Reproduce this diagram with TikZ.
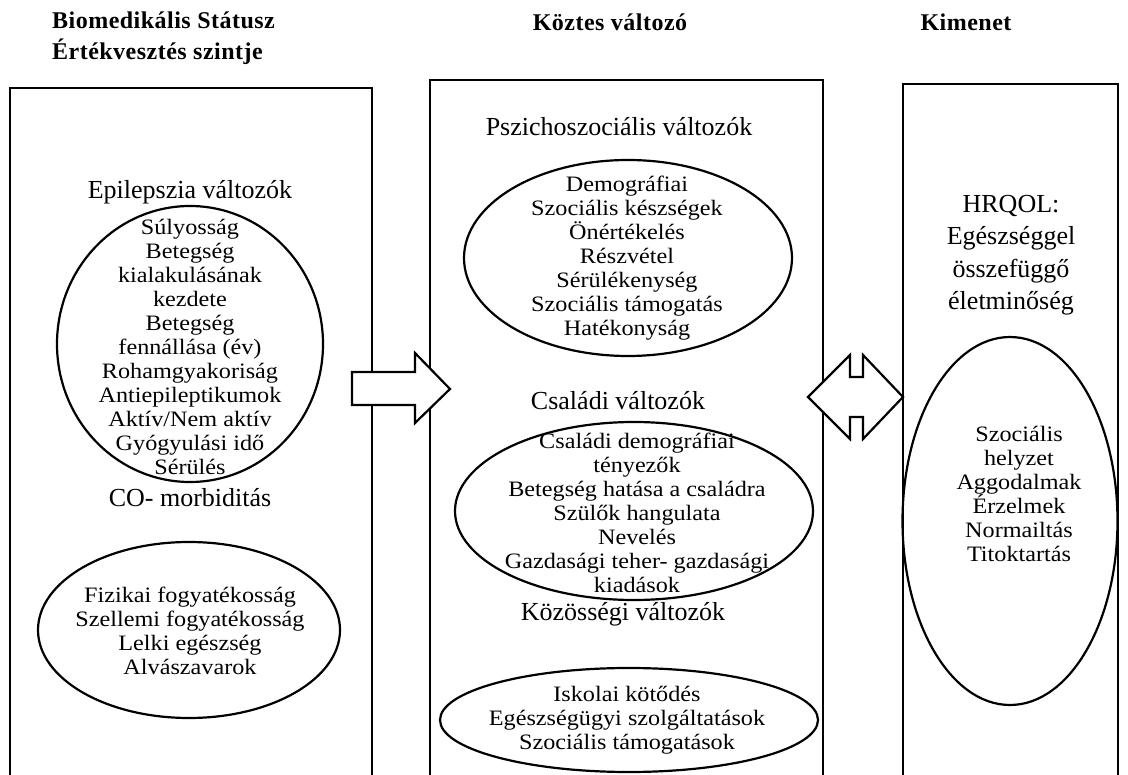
\documentclass[tikz,border=0pt]{standalone}
\usepackage{fontspec}
\setmainfont{Liberation Serif}
\newfontfamily\hdfont[LetterSpace=2]{Liberation Serif}
\newfontfamily\itfont[FakeStretch=1.1]{Liberation Serif}
\usetikzlibrary{shapes.geometric}
\tikzset{
  frame/.style={line width=2.6pt, line join=miter},
  oval/.style={ellipse, draw, line width=2.2pt, inner sep=0pt},
  head/.style={font=\hdfont\fontsize{24}{31.5}\selectfont\bfseries, align=left, inner sep=0pt},
  sect/.style={font=\fontsize{26}{32.5}\selectfont, align=center, inner sep=0pt},
  items/.style={font=\itfont\fontsize{22}{24}\selectfont, align=center, inner sep=0pt},
  blockarrow/.style={draw, line width=2.2pt, fill=white, line join=miter},
}
\begin{document}
\begin{tikzpicture}[x=1pt,y=-1pt]
\useasboundingbox (0,0) rectangle (1128,775);
\clip (0,0) rectangle (1128,775);
% headers
\node[head, anchor=west] (h1) at (52,38) {Biomedikális Státusz\\Értékvesztés szintje};
\node[head] (h2) at (610,22) {Köztes változó};
\node[head] (h3) at (966,22) {Kimenet};
% frames (open at bottom)
\draw[frame] (10,800) -- (10,88) -- (372,88) -- (372,800);
\draw[frame] (430,800) -- (430,80) -- (823,80) -- (823,800);
\draw[frame] (903,800) -- (903,84) -- (1118,84) -- (1118,800);
% left column
\node[sect] (epi) at (190,192) {Epilepszia változók};
\node[oval, minimum width=266pt, minimum height=276pt] (epiov) at (190,344) {};
\node[items] (epit) at (190,347) {Súlyosság\\Betegség\\kialakulásának\\kezdete\\Betegség\\fennállása (év)\\Rohamgyakoriság\\Antiepileptikumok\\Aktív/Nem aktív\\Gyógyulási idő\\Sérülés};
\node[sect] (co) at (190,498) {CO- morbiditás};
\node[oval, minimum width=302pt, minimum height=176pt] (coov) at (189,630) {};
\node[items] (cot) at (190,631) {Fizikai fogyatékosság\\Szellemi fogyatékosság\\Lelki egészség\\Alvászavarok};
% middle column
\node[sect] (psz) at (619,127) {Pszichoszociális változók};
\node[oval, minimum width=328pt, minimum height=196pt] (pszov) at (628,258) {};
\node[items] (pszt) at (627,258) {Demográfiai\\Szociális készségek\\Önértékelés\\Részvétel\\Sérülékenység\\Szociális támogatás\\Hatékonyság};
\node[sect] (csal) at (618,401) {Családi változók};
\node[oval, minimum width=358pt, minimum height=178pt] (csalov) at (634,511) {};
\node[items] (csalt) at (637,513) {Családi demográfiai\\tényezők\\Betegség hatása a családra\\Szülők hangulata\\Nevelés\\Gazdasági teher- gazdasági\\kiadások};
\node[sect] (koz) at (623,614) {Közösségi változók};
\node[oval, minimum width=378pt, minimum height=104pt] (kozov) at (629,720) {};
\node[items] (kozt) at (627,720) {Iskolai kötődés\\Egészségügyi szolgáltatások\\Szociális támogatások};
% right column
\node[sect] (hr) at (1011,255) {HRQOL:\\Egészséggel\\összefüggő\\életminőség};
\node[oval, minimum width=215pt, minimum height=368pt] (hrov) at (1010,521) {};
\node[items] (hrt) at (1019,494) {Szociális\\helyzet\\Aggodalmak\\Érzelmek\\Normailtás\\Titoktartás};
% block arrows
\draw[blockarrow] (352,372) -- (415,372) -- (415,353) -- (450,389) -- (415,423) -- (415,405) -- (352,405) -- cycle;
\draw[blockarrow] (808,397) -- (850,355) -- (850,377) -- (863,377) -- (863,355) -- (903,397) -- (863,439) -- (863,417) -- (850,417) -- (850,439) -- cycle;
\end{tikzpicture}
\end{document}
